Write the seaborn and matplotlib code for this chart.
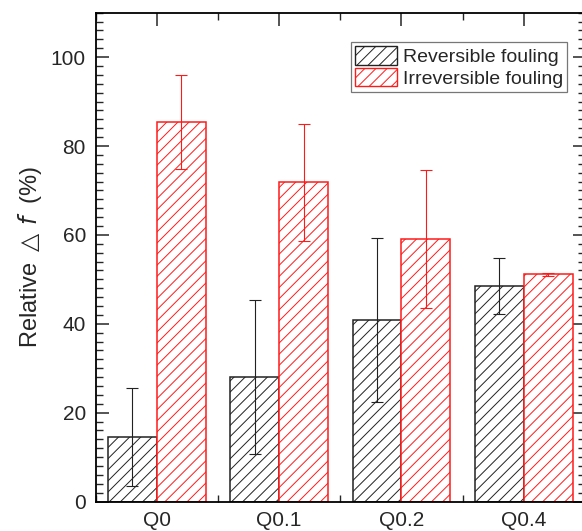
import numpy as np
import pandas as pd
import matplotlib
matplotlib.use('Agg')
import matplotlib.pyplot as plt
import matplotlib.patches as mpatches
from matplotlib.ticker import MultipleLocator
import seaborn as sns

# values
groups = ['Q0', 'Q0.1', 'Q0.2', 'Q0.4']
reversible = [14.5, 28.1, 40.8, 48.6]
reversible_err = [11.1, 17.3, 18.5, 6.3]
irreversible = [85.4, 71.8, 59.0, 51.1]
irreversible_err = [10.5, 13.2, 15.5, 0.4]
series = ['Reversible fouling', 'Irreversible fouling']
colors = ['#222222', '#ff1a1a']

sns.set_style('ticks')
plt.rcParams['font.family'] = ['Liberation Sans', 'DejaVu Sans']
plt.rcParams['hatch.linewidth'] = 0.7

df = pd.DataFrame({
    'group': groups * 2,
    'type': [series[0]] * len(groups) + [series[1]] * len(groups),
    'value': reversible + irreversible,
})

fig = plt.figure(figsize=(5.82, 5.31), dpi=100)
ax = fig.add_axes([0.1644, 0.0555, 0.8406, 0.9206])

sns.barplot(data=df, x='group', y='value', hue='type', hue_order=series,
            palette=colors, width=0.8, errorbar=None, fill=False,
            linewidth=1.1, legend=False, ax=ax)

errs = [reversible_err, irreversible_err]
vals = [reversible, irreversible]
for cont, c, v, e in zip(ax.containers, colors, vals, errs):
    xs = []
    for bar in cont:
        bar.set_facecolor('white')
        bar.set_edgecolor(c)
        bar.set_hatch('///')
        if hasattr(bar, 'set_hatchcolor'):
            bar.set_hatchcolor(c)
        xs.append(bar.get_x() + bar.get_width() / 2)
    ax.errorbar(xs, v, yerr=e, fmt='none', ecolor=c, elinewidth=0.8,
                capsize=4, capthick=0.8, zorder=5)

ax.set_xlim(-0.5, 3.5)
ax.set_ylim(0, 110)
ax.yaxis.set_major_locator(MultipleLocator(20))
ax.yaxis.set_minor_locator(MultipleLocator(2))
ax.set_yticks([0, 20, 40, 60, 80, 100])
ax.xaxis.set_minor_locator(MultipleLocator(0.5))
ax.tick_params(axis='both', which='major', direction='in', length=9, width=1.1,
               top=True, right=True, labelsize=15, pad=7)
ax.tick_params(axis='both', which='minor', direction='in', length=5, width=1.0,
               top=True, right=True)
for s in ax.spines.values():
    s.set_linewidth(1.3)
    s.set_color('black')

ax.set_xlabel('')
ax.set_ylabel(r'Relative $\triangle\,\mathit{f}$  (%)', fontsize=17, labelpad=5)

handles = [mpatches.Patch(facecolor='white', edgecolor=c, hatch='///', label=s)
           for c, s in zip(colors, series)]
leg = ax.legend(handles=handles, loc='upper right', bbox_to_anchor=(0.964, 0.94),
                fontsize=14, frameon=True, fancybox=False, handlelength=2.2,
                handleheight=1.1, handletextpad=0.3, borderpad=0.2,
                labelspacing=0.1, borderaxespad=0)
leg.get_frame().set_edgecolor('#555555')
leg.get_frame().set_linewidth(0.9)
for h, c in zip(leg.legend_handles, colors):
    if hasattr(h, 'set_hatchcolor'):
        h.set_hatchcolor(c)

fig.savefig('out.png', dpi=100)
